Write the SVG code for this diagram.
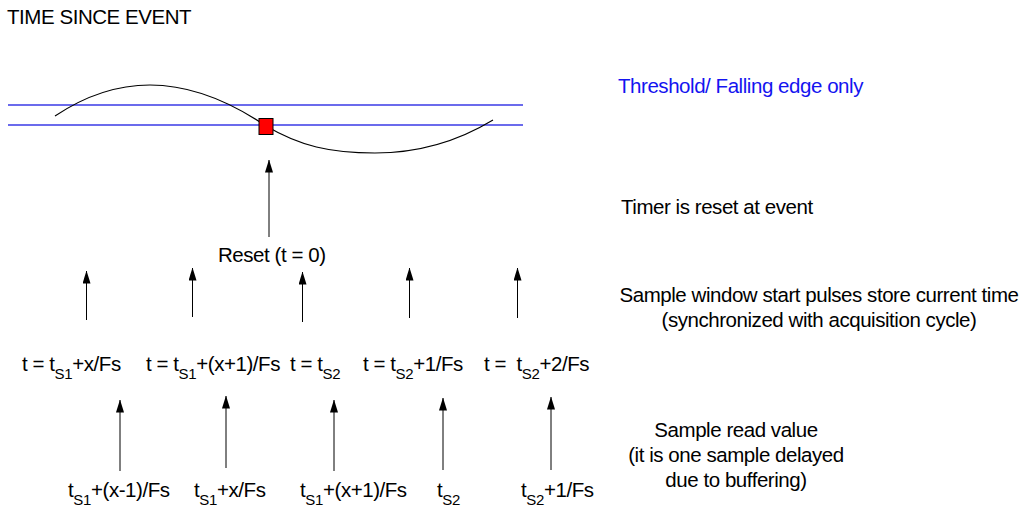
<svg xmlns="http://www.w3.org/2000/svg" width="1024" height="515" viewBox="0 0 1024 515">
<style>
text{font-family:"Liberation Sans",Arial,sans-serif;font-size:20.5px;letter-spacing:-0.45px;fill:#000}
.sub{font-size:15px;letter-spacing:-0.3px}
.blue{fill:#1414f0}
.thr{stroke:#3a3ae6;stroke-width:1.3;fill:none}
.arr{stroke:#000;stroke-width:1;fill:none;marker-end:url(#ah)}
</style>
<defs>
<marker id="ah" viewBox="0 0 13 8" refX="12.5" refY="4" markerWidth="13" markerHeight="8" markerUnits="userSpaceOnUse" orient="auto">
<path d="M0,0 L13,4 L0,8 Z" fill="#000"/>
</marker>
</defs>
<rect width="1024" height="515" fill="#fff"/>
<g id="title"><text x="7" y="24">TIME SINCE EVENT</text></g>
<g id="signal">
<line class="thr" x1="8" y1="105" x2="523" y2="105"/>
<line class="thr" x1="8" y1="125" x2="523" y2="125"/>
<path d="M55,116 C85,96 115,85 150,85 C195,85 235,105 266,126 C300,146 330,153 375,153 C420,153 460,140 493,120" fill="none" stroke="#000" stroke-width="1.1"/>
<rect x="259" y="118.5" width="14" height="16" fill="#ff0000" stroke="#000" stroke-width="1"/>
</g>
<g id="connectors">
<line class="arr" x1="269" y1="237" x2="269" y2="160"/>
<line class="arr" x1="86.5" y1="320" x2="86.5" y2="271"/>
<line class="arr" x1="192.5" y1="317" x2="192.5" y2="268"/>
<line class="arr" x1="302.5" y1="322" x2="302.5" y2="272"/>
<line class="arr" x1="409.5" y1="318" x2="409.5" y2="268"/>
<line class="arr" x1="517.5" y1="318" x2="517.5" y2="268"/>
<line class="arr" x1="120" y1="471" x2="120" y2="400"/>
<line class="arr" x1="226" y1="468" x2="226" y2="396"/>
<line class="arr" x1="334" y1="471" x2="334" y2="400"/>
<line class="arr" x1="443" y1="470" x2="443" y2="398"/>
<line class="arr" x1="551" y1="470" x2="551" y2="397"/>
</g>
<g id="reset"><text x="218" y="262">Reset (t = 0)</text></g>
<g id="row2">
<text x="22" y="371">t = t<tspan class="sub" dy="8">S1</tspan><tspan dy="-8">+x/Fs</tspan></text>
<text x="146" y="371">t = t<tspan class="sub" dy="8">S1</tspan><tspan dy="-8">+(x+1)/Fs</tspan></text>
<text x="290" y="371">t = t<tspan class="sub" dy="8">S2</tspan></text>
<text x="363" y="371">t = t<tspan class="sub" dy="8">S2</tspan><tspan dy="-8">+1/Fs</tspan></text>
<text x="484" y="371" xml:space="preserve">t =  t<tspan class="sub" dy="8">S2</tspan><tspan dy="-8">+2/Fs</tspan></text>
</g>
<g id="row3">
<text x="68" y="497">t<tspan class="sub" dy="8">S1</tspan><tspan dy="-8">+(x-1)/Fs</tspan></text>
<text x="194" y="497">t<tspan class="sub" dy="8">S1</tspan><tspan dy="-8">+x/Fs</tspan></text>
<text x="300" y="497">t<tspan class="sub" dy="8">S1</tspan><tspan dy="-8">+(x+1)/Fs</tspan></text>
<text x="437" y="497">t<tspan class="sub" dy="8">S2</tspan></text>
<text x="521" y="497">t<tspan class="sub" dy="8">S2</tspan><tspan dy="-8">+1/Fs</tspan></text>
</g>
<g id="notes">
<text class="blue" x="618" y="93">Threshold/ Falling edge only</text>
<text x="621" y="214">Timer is reset at event</text>
<text x="819" y="302" text-anchor="middle">Sample window start pulses store current time</text>
<text x="819" y="327" text-anchor="middle">(synchronized with acquisition cycle)</text>
<text x="736" y="437" text-anchor="middle">Sample read value</text>
<text x="736" y="462" text-anchor="middle">(it is one sample delayed</text>
<text x="736" y="487" text-anchor="middle">due to buffering)</text>
</g>
</svg>
